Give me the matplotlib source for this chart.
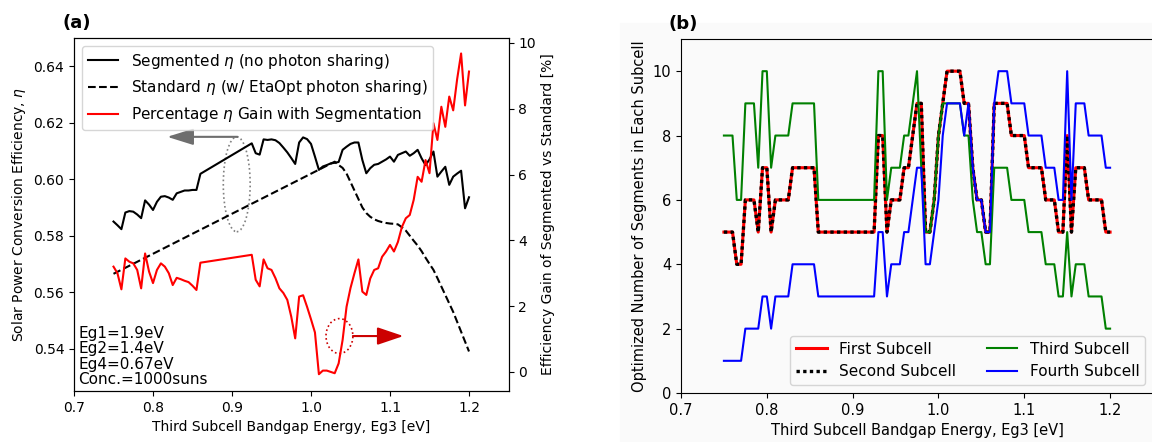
import numpy as np
import matplotlib
matplotlib.use('Agg')
import matplotlib.pyplot as plt
from matplotlib.patches import Ellipse, Rectangle

# third subcell bandgap grid (no runs between 0.86 and 0.925 eV)
eg3 = np.round(np.concatenate([np.arange(0.75, 0.8601, 0.005),
                               np.arange(0.925, 1.2001, 0.005)]), 3)

# panel (a)
eta_segmented = [0.5850, 0.5837, 0.5823, 0.5882, 0.5887, 0.5885, 0.5875, 0.5862, 0.5925, 0.5910,
                 0.5891, 0.5920, 0.5938, 0.5940, 0.5935, 0.5927, 0.5950, 0.5955, 0.5960, 0.5960,
                 0.5962, 0.5962, 0.6019,
                 0.6127, 0.6092, 0.6087, 0.6141, 0.6139, 0.6141, 0.6138, 0.6128, 0.6112, 0.6095,
                 0.6075, 0.6054, 0.6130, 0.6148, 0.6142, 0.6125, 0.6080, 0.6033, 0.6045, 0.6050,
                 0.6056, 0.6058, 0.6061, 0.6104, 0.6115, 0.6125, 0.6130, 0.6130, 0.6068, 0.6021,
                 0.6039, 0.6051, 0.6054, 0.6062, 0.6070, 0.6080, 0.6062, 0.6086, 0.6092, 0.6098,
                 0.6083, 0.6092, 0.6104, 0.6074, 0.6050, 0.6070, 0.6098, 0.6009, 0.6027, 0.6044,
                 0.5980, 0.6009, 0.6020, 0.6030, 0.5897, 0.5936]

std_eg3 = [0.75, 1.03, 1.035, 1.04, 1.045, 1.05, 1.055, 1.06, 1.065, 1.07, 1.075, 1.08, 1.085,
           1.09, 1.095, 1.1, 1.105, 1.11, 1.115, 1.12, 1.125, 1.13, 1.135, 1.14, 1.145, 1.15,
           1.155, 1.16, 1.165, 1.17, 1.175, 1.18, 1.185, 1.19, 1.195, 1.2]
eta_standard = [0.5665, 0.6062, 0.6050, 0.6040, 0.6020, 0.5990, 0.5960, 0.5930, 0.5900, 0.5880,
                0.5867, 0.5858, 0.5852, 0.5848, 0.5845, 0.5843, 0.5842, 0.5840, 0.5830, 0.5818,
                0.5800, 0.5782, 0.5765, 0.5745, 0.5722, 0.5700, 0.5679, 0.5650, 0.5620, 0.5590,
                0.5560, 0.5530, 0.5495, 0.5460, 0.5425, 0.5390]

gain_pct = [3.20, 3.00, 2.51, 3.45, 3.35, 3.30, 3.10, 2.54, 3.60, 3.05, 2.70, 3.10, 3.30, 3.20,
            3.00, 2.64, 2.86, 2.82, 2.77, 2.73, 2.62, 2.49, 3.32,
            3.56, 2.80, 2.60, 3.42, 3.15, 3.10, 2.85, 2.54, 2.40, 2.19, 1.68, 1.02, 2.29, 2.33,
            1.98, 1.60, 1.20, -0.07, 0.04, 0.04, 0.00, -0.04, 0.26, 0.97, 1.98, 2.55, 3.00, 3.42,
            2.44, 2.34, 2.84, 3.10, 3.15, 3.50, 3.66, 3.86, 3.66, 3.95, 4.40, 4.67, 4.77, 5.23,
            5.93, 5.78, 6.44, 6.04, 7.56, 7.05, 8.06, 7.45, 8.37, 7.95, 8.90, 9.68, 8.10, 9.13]

# panel (b): optimized number of segments
first_subcell = [5, 5, 5, 4, 4, 6, 6, 6, 5, 7, 7, 5, 6, 6, 6, 6, 7, 7, 7, 7, 7, 7, 5,
                 5, 8, 8, 5, 6, 6, 6, 7, 7, 8, 9, 9, 5, 5, 6, 8, 9, 10, 10, 10, 10, 9, 9, 7,
                 6, 6, 5, 5, 9, 9, 9, 9, 8, 8, 8, 8, 7, 7, 7, 7, 6, 6, 6, 5, 5, 8, 5, 7, 7, 7,
                 6, 6, 6, 6, 5, 5]
second_subcell = list(first_subcell)  # identical to the first subcell
third_subcell = [8, 8, 8, 6, 6, 9, 9, 9, 7, 10, 10, 7, 8, 8, 8, 8, 9, 9, 9, 9, 9, 9, 6,
                 6, 10, 10, 6, 7, 7, 7, 8, 8, 9, 10, 7, 5, 5, 6, 8, 9, 9, 9, 9, 9, 8, 8, 6,
                 5, 5, 4, 4, 7, 7, 7, 7, 6, 6, 6, 6, 5, 5, 5, 5, 4, 4, 4, 3, 3, 5, 3, 4, 4, 4,
                 3, 3, 3, 3, 2, 2]
fourth_subcell = [1, 1, 1, 1, 1, 2, 2, 2, 2, 3, 3, 2, 3, 3, 3, 3, 4, 4, 4, 4, 4, 4, 3,
                  3, 5, 5, 3, 4, 4, 4, 5, 5, 6, 7, 7, 4, 4, 5, 6, 8, 9, 9, 9, 9, 8, 9, 7,
                  6, 6, 5, 5, 9, 10, 10, 10, 9, 9, 9, 9, 8, 8, 8, 8, 7, 7, 7, 6, 6, 10, 6, 9, 9, 9,
                  8, 8, 8, 8, 7, 7]

fig = plt.figure(figsize=(11.52, 4.42), dpi=100)
fig.patches.append(Rectangle((620 / 1152, 0), 1 - 620 / 1152, 1 - 23 / 442,
                             transform=fig.transFigure, color='#fafafa', zorder=-5))

# ---- (a) ----
ax = fig.add_axes([74 / 1152, 51 / 442, 434.5 / 1152, 353 / 442])
axr = ax.twinx()
l1, = ax.plot(eg3, eta_segmented, 'k-', lw=1.5, label=r'Segmented $\eta$ (no photon sharing)')
l2, = ax.plot(std_eg3, eta_standard, 'k--', lw=1.5,
              label=r'Standard $\eta$ (w/ EtaOpt photon sharing)')
l3, = axr.plot(eg3, gain_pct, 'r-', lw=1.5, label=r'Percentage $\eta$ Gain with Segmentation')
ax.set_xlim(0.7, 1.25)
ax.set_ylim(0.525, 0.65)
axr.set_ylim(-0.58, 10.15)
ax.set_xticks([0.7, 0.8, 0.9, 1.0, 1.1, 1.2])
ax.set_yticks([0.54, 0.56, 0.58, 0.60, 0.62, 0.64])
axr.set_yticks([0, 2, 4, 6, 8, 10])
ax.tick_params(labelsize=10)
axr.tick_params(labelsize=10)
ax.set_xlabel('Third Subcell Bandgap Energy, Eg3 [eV]', fontsize=10)
ax.set_ylabel(r'Solar Power Conversion Efficiency, $\eta$', fontsize=10)
axr.set_ylabel('Efficiency Gain of Segmented vs Standard [%]', fontsize=10)
axr.legend(handles=[l1, l2, l3], loc='upper left', fontsize=11)

ax.add_patch(Ellipse((0.906, 0.5982), 0.034, 0.0336, fill=False, ls=':', ec='gray', lw=1.2))
ax.annotate('', xy=(0.818, 0.615), xytext=(0.907, 0.615),
            arrowprops=dict(arrowstyle='-|>,head_length=0.8,head_width=0.25', color='#6e6e6e',
                            lw=1.5, mutation_scale=20, shrinkA=0, shrinkB=0))
axr.add_patch(Ellipse((1.036, 1.09), 0.034, 1.06, fill=False, ls=':', ec='#cc0000', lw=1.2))
axr.annotate('', xy=(1.117, 1.09), xytext=(1.053, 1.09),
             arrowprops=dict(arrowstyle='-|>,head_length=0.8,head_width=0.27', color='#cc0000',
                             lw=1.5, mutation_scale=20, shrinkA=0, shrinkB=0))
ax.text(0.01, 0.01, 'Eg1=1.9eV\nEg2=1.4eV\nEg4=0.67eV\nConc.=1000suns', transform=ax.transAxes,
        fontsize=11, va='bottom', ha='left', linespacing=1.05)

# ---- (b) ----
bx = fig.add_axes([681 / 1152, 49 / 442, 472 / 1152, 354 / 442], facecolor='#fafafa')
bx.plot(eg3, first_subcell, 'r-', lw=2.2, label='First Subcell')
bx.plot(eg3, second_subcell, color='k', ls=(0, (1, 1)), lw=2.4, label='Second Subcell')
bx.plot(eg3, third_subcell, color='green', lw=1.5, label='Third Subcell')
bx.plot(eg3, fourth_subcell, color='blue', lw=1.5, label='Fourth Subcell')
bx.set_xlim(0.7, 1.25)
bx.set_ylim(0, 11)
bx.set_xticks([0.7, 0.8, 0.9, 1.0, 1.1, 1.2])
bx.set_yticks([0, 2, 4, 6, 8, 10])
bx.tick_params(labelsize=10.5)
bx.set_xlabel('Third Subcell Bandgap Energy, Eg3 [eV]', fontsize=10.5)
bx.set_ylabel('Optimized Number of Segments in Each Subcell', fontsize=10.5)
bx.legend(loc='lower right', ncol=2, fontsize=11, facecolor='#fafafa')

fig.text(62 / 1152, 1 - 23 / 442, '(a)', fontsize=13, fontweight='bold', va='center')
fig.text(669 / 1152, 1 - 24 / 442, '(b)', fontsize=13, fontweight='bold', va='center')

fig.savefig('out.png', dpi=100)
